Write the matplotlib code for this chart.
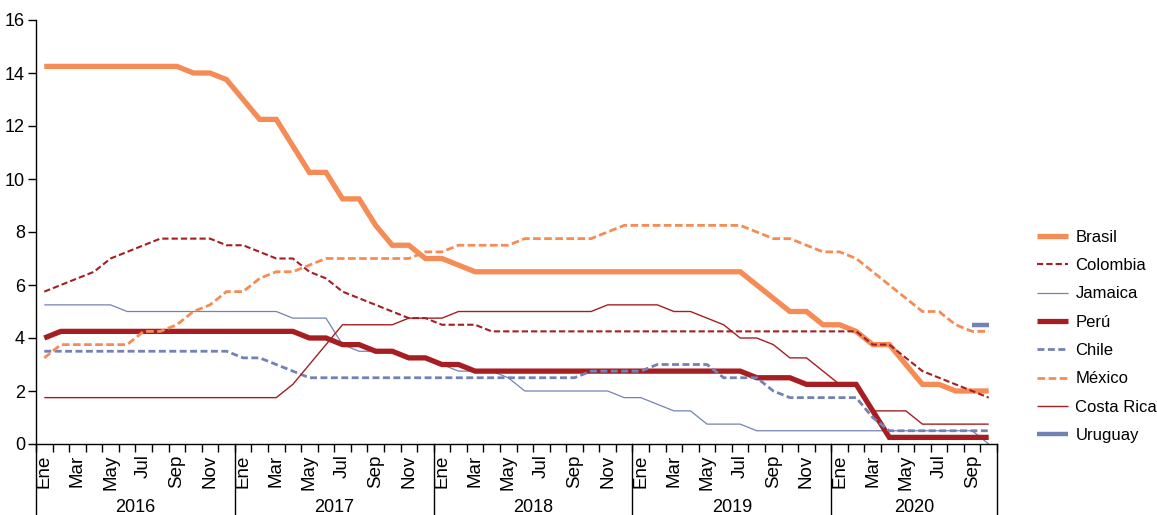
import numpy as np
import matplotlib
matplotlib.use('Agg')
import matplotlib.pyplot as plt

plt.rcParams['font.family'] = ['Liberation Sans', 'DejaVu Sans']
plt.rcParams['lines.scale_dashes'] = False

# Monthly policy rates, Jan 2016 - Oct 2020
years = ['2016', '2017', '2018', '2019', '2020']
months_per_year = [12, 12, 12, 12, 10]
month_names = ['Ene', 'Feb', 'Mar', 'Abr', 'May', 'Jun',
               'Jul', 'Ago', 'Sep', 'Oct', 'Nov', 'Dic']

brasil = [14.25] * 9 + [14.0, 14.0, 13.75] + \
    [13.0, 12.25, 12.25, 11.25, 10.25, 10.25, 9.25, 9.25, 8.25, 7.5, 7.5, 7.0] + \
    [7.0, 6.75] + [6.5] * 10 + \
    [6.5] * 7 + [6.0, 5.5, 5.0, 5.0, 4.5] + \
    [4.5, 4.25, 3.75, 3.75, 3.0, 2.25, 2.25, 2.0, 2.0, 2.0]
colombia = [5.75, 6.0, 6.25, 6.5, 7.0, 7.25, 7.5, 7.75, 7.75, 7.75, 7.75, 7.5] + \
    [7.5, 7.25, 7.0, 7.0, 6.5, 6.25, 5.75, 5.5, 5.25, 5.0, 4.75, 4.75] + \
    [4.5, 4.5, 4.5] + [4.25] * 9 + \
    [4.25] * 12 + \
    [4.25, 4.25, 3.75, 3.75, 3.25, 2.75, 2.5, 2.25, 2.0, 1.75]
jamaica = [5.25] * 5 + [5.0] * 7 + \
    [5.0, 5.0, 5.0, 4.75, 4.75, 4.75, 3.75, 3.5, 3.5, 3.5, 3.25, 3.25] + \
    [3.0, 2.75, 2.75, 2.75, 2.5, 2.0, 2.0, 2.0, 2.0, 2.0, 2.0, 1.75] + \
    [1.75, 1.5, 1.25, 1.25, 0.75, 0.75, 0.75, 0.5, 0.5, 0.5, 0.5, 0.5] + \
    [0.5] * 9 + [0.0]
peru = [4.0] + [4.25] * 11 + \
    [4.25, 4.25, 4.25, 4.25, 4.0, 4.0, 3.75, 3.75, 3.5, 3.5, 3.25, 3.25] + \
    [3.0, 3.0] + [2.75] * 10 + \
    [2.75] * 7 + [2.5, 2.5, 2.5, 2.25, 2.25] + \
    [2.25, 2.25, 1.25] + [0.25] * 7
chile = [3.5] * 12 + \
    [3.25, 3.25, 3.0, 2.75] + [2.5] * 8 + \
    [2.5] * 9 + [2.75, 2.75, 2.75] + \
    [2.75, 3.0, 3.0, 3.0, 3.0, 2.5, 2.5, 2.5, 2.0, 1.75, 1.75, 1.75] + \
    [1.75, 1.75, 1.0] + [0.5] * 7
mexico = [3.25, 3.75, 3.75, 3.75, 3.75, 3.75, 4.25, 4.25, 4.5, 5.0, 5.25, 5.75] + \
    [5.75, 6.25, 6.5, 6.5, 6.75, 7.0, 7.0, 7.0, 7.0, 7.0, 7.0, 7.25] + \
    [7.25, 7.5, 7.5, 7.5, 7.5, 7.75, 7.75, 7.75, 7.75, 7.75, 8.0, 8.25] + \
    [8.25] * 7 + [8.0, 7.75, 7.75, 7.5, 7.25] + \
    [7.25, 7.0, 6.5, 6.0, 5.5, 5.0, 5.0, 4.5, 4.25, 4.25]
costa_rica = [1.75] * 12 + \
    [1.75, 1.75, 1.75, 2.25, 3.0, 3.75, 4.5, 4.5, 4.5, 4.5, 4.75, 4.75] + \
    [4.75] + [5.0] * 9 + [5.25, 5.25] + \
    [5.25, 5.25, 5.0, 5.0, 4.75, 4.5, 4.0, 4.0, 3.75, 3.25, 3.25, 2.75] + \
    [2.25, 2.25, 1.25, 1.25, 1.25] + [0.75] * 5
uruguay = [np.nan] * 56 + [4.5, 4.5]

orange = '#F58C55'
red = '#A61E22'
blue = '#7382B4'

series = [
    ('Brasil', brasil, orange, 3.8, None),
    ('Colombia', colombia, red, 1.5, (4.5, 2.2)),
    ('Jamaica', jamaica, blue, 0.9, None),
    ('Perú', peru, red, 3.8, None),
    ('Chile', chile, blue, 2.0, (5, 2.5)),
    ('México', mexico, orange, 2.0, (5.5, 2.5)),
    ('Costa Rica', costa_rica, red, 1.0, None),
    ('Uruguay', uruguay, blue, 3.2, None),
]

n = sum(months_per_year)
x = np.arange(n)

fig = plt.figure(figsize=(11.57, 5.15), dpi=100)
ax = fig.add_axes([36 / 1157, 71 / 515, 961 / 1157, 424 / 515])

for name, vals, color, lw, dash in series:
    line, = ax.plot(x, vals, color=color, lw=lw, label=name,
                    solid_joinstyle='miter', solid_capstyle='butt')
    if dash:
        line.set_dashes(dash)

ax.set_xlim(-0.5, n - 0.5)
ax.set_ylim(0, 16)
ax.set_yticks(range(0, 17, 2))
ax.tick_params(axis='y', labelsize=13, length=6, width=1, direction='out', pad=2)
for s in ['top', 'right']:
    ax.spines[s].set_visible(False)
for s in ['left', 'bottom']:
    ax.spines[s].set_linewidth(1.0)

# month ticks at slot boundaries
ax.set_xticks(np.arange(n + 1) - 0.5)
ax.set_xticklabels([])
ax.tick_params(axis='x', length=6, width=1, direction='out')

trans = ax.get_xaxis_transform()
start = 0
for yr, cnt in zip(years, months_per_year):
    for m in range(0, cnt, 2):
        ax.text(start + m, -0.025, month_names[m], rotation=90, ha='center',
                va='top', fontsize=13.5, transform=trans)
    ax.text(start + (cnt - 1) / 2, -0.13, yr, ha='center', va='top',
            fontsize=13, transform=trans)
    ax.plot([start - 0.5, start - 0.5], [0, -0.2], color='black', lw=1,
            transform=trans, clip_on=False)
    start += cnt
ax.plot([n - 0.5, n - 0.5], [0, -0.2], color='black', lw=1,
        transform=trans, clip_on=False)

fig.legend(loc='center left', bbox_to_anchor=(1037 / 1157, 1 - 336.5 / 515),
           frameon=False, fontsize=12, handlelength=1.85, handletextpad=0.45,
           labelspacing=0.8, borderpad=0, borderaxespad=0)

fig.savefig('out.png', dpi=100)
